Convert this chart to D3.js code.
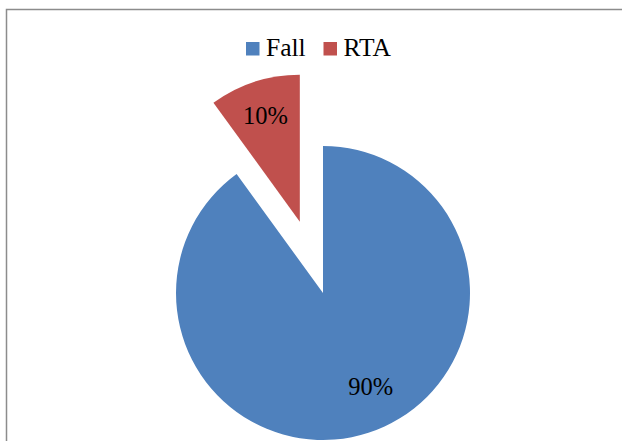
<!DOCTYPE html>
<html>
<head>
<meta charset="utf-8">
<script src="https://cdn.jsdelivr.net/npm/d3@7/dist/d3.min.js"></script>
<style>
  body { margin: 0; background: #fff; }
</style>
</head>
<body>
<div id="chart"></div>
<script>
// data
var categories = ["Fall", "RTA"];
var values = [90, 10];
var labels = ["90%", "10%"];
var colors = ["#4F81BD", "#C0504D"];

var fontFam = "Liberation Serif";
var width = 622, height = 441;
var cx = 323, cy = 293, radius = 147;
var explode = [0, 75];               // pull-out distance per slice
var labelPos = [[153, 105], [null, 111]]; // [angle deg or null = mid, radius]

var svg = d3.select("#chart").append("svg")
    .attr("width", width)
    .attr("height", height);

// frame
svg.append("rect")
    .attr("x", 6.5).attr("y", 9.5)
    .attr("width", 700).attr("height", 500)
    .attr("fill", "none")
    .attr("stroke", "#8c8c8c")
    .attr("stroke-width", 1.5);

var pie = d3.pie().sort(null).startAngle(0).endAngle(2 * Math.PI);
var arc = d3.arc().innerRadius(0).outerRadius(radius);
var arcs = pie(values);

var g = svg.append("g").attr("transform", "translate(" + cx + "," + cy + ")");

var slices = g.selectAll("g.slice")
    .data(arcs)
    .enter().append("g")
    .attr("class", "slice")
    .attr("transform", function(d, i) {
        var mid = (d.startAngle + d.endAngle) / 2;
        return "translate(" + (Math.sin(mid) * explode[i]) + "," + (-Math.cos(mid) * explode[i]) + ")";
    });

slices.append("path")
    .attr("d", arc)
    .attr("fill", function(d, i) { return colors[i]; });

slices.append("text")
    .attr("text-anchor", "middle")
    .attr("dy", "0.33em")
    .attr("font-family", fontFam)
    .attr("font-size", 24.5)
    .attr("fill", "#000")
    .attr("transform", function(d, i) {
        var a = labelPos[i][0] == null ? (d.startAngle + d.endAngle) / 2 : labelPos[i][0] * Math.PI / 180;
        var r = labelPos[i][1];
        return "translate(" + (Math.sin(a) * r) + "," + (-Math.cos(a) * r) + ")";
    })
    .text(function(d, i) { return labels[i]; });

// legend
var legend = svg.append("g");
var legX = [246, 323.5];
categories.forEach(function(c, i) {
    legend.append("rect")
        .attr("x", legX[i]).attr("y", 42)
        .attr("width", 13.5).attr("height", 13.5)
        .attr("fill", colors[i]);
    legend.append("text")
        .attr("x", legX[i] + 20).attr("y", 56)
        .attr("font-family", fontFam)
        .attr("font-size", 25.5)
        .attr("fill", "#000")
        .text(c);
});
</script>
</body>
</html>
